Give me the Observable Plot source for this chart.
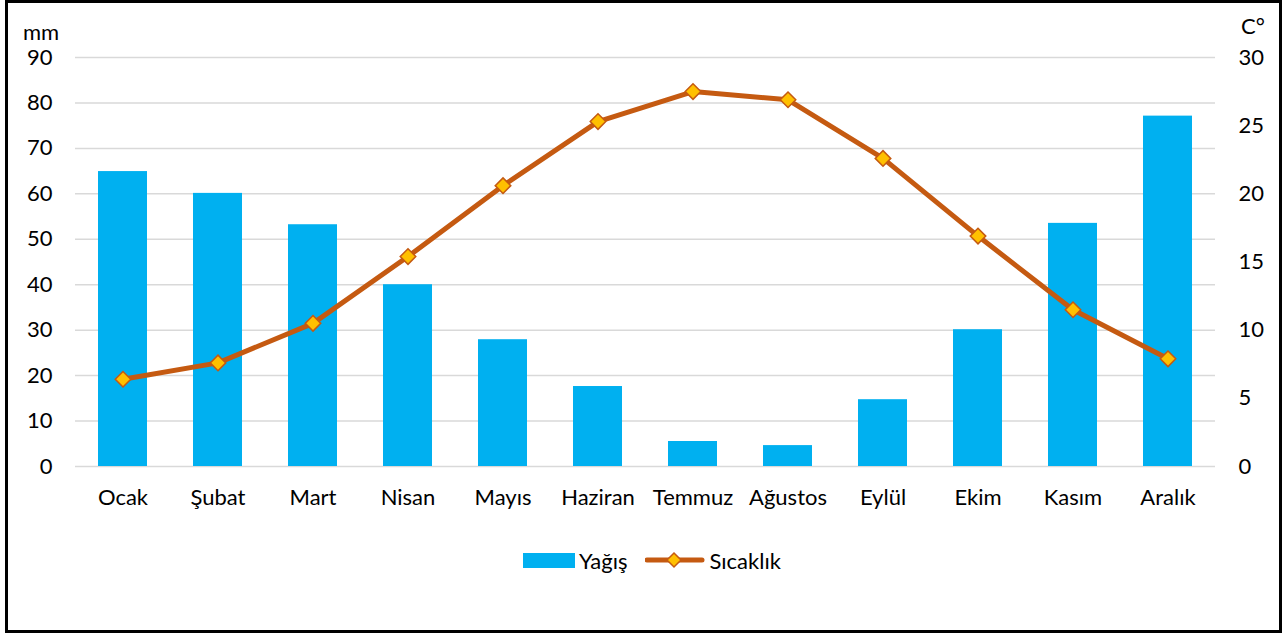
<!DOCTYPE html>
<html><head><meta charset="utf-8">
<script src="https://cdn.jsdelivr.net/npm/d3@7"></script>
<script src="https://cdn.jsdelivr.net/npm/@observablehq/plot@0.6"></script>
<style>
body{margin:0;background:#fff;font-family:Lato,"Open Sans",sans-serif;color:#000;}
#frame{position:absolute;left:5px;top:0;width:1277px;height:633px;box-sizing:border-box;border:3px solid #000;}
#chart{position:absolute;left:0;top:0;}
.unit{position:absolute;font-size:22px;line-height:22px;}
#legend{position:absolute;left:523px;top:548px;height:24px;display:flex;align-items:center;font-size:22px;}
#legend .sw{display:inline-block;width:52px;height:15px;background:#00B0F0;margin-right:4px;}
</style></head><body>
<div id="frame"></div>
<div id="chart"></div>
<div class="unit" id="uL" style="left:23px;top:21px;"></div>
<div class="unit" id="uR" style="left:1241px;top:15px;"></div>
<div id="legend"></div>
<script>
const months = ["Ocak","Şubat","Mart","Nisan","Mayıs","Haziran","Temmuz","Ağustos","Eylül","Ekim","Kasım","Aralık"];
const rain = [64.9, 60.1, 53.2, 40.0, 27.9, 17.6, 5.5, 4.6, 14.7, 30.1, 53.5, 77.1];
const temp = [6.4, 7.6, 10.5, 15.4, 20.6, 25.3, 27.5, 26.9, 22.6, 16.9, 11.5, 7.9];
const leftTicks = [0,10,20,30,40,50,60,70,80,90];
const rightTicks = [0,5,10,15,20,25,30];
const leftUnit = "mm";
const rightUnit = "C°";
const seriesNames = ["Yağış","Sıcaklık"];

const colors = {bar:"#00B0F0", line:"#C55A11", marker:"#FFC000", grid:"#D9D9D9"};
const k = 90/30;
const data = months.map((m,i)=>({month:m, rain:rain[i], temp:temp[i]}));

const plot = Plot.plot({
  width:1283, height:520,
  marginLeft:75, marginRight:68, marginTop:57, marginBottom:54,
  style:{fontFamily:"Lato, 'Open Sans', sans-serif", fontSize:"22px", color:"#000", background:"transparent", overflow:"visible"},
  x:{domain:months, paddingInner:0.48, paddingOuter:0.24, label:null},
  y:{domain:[0,90], label:null},
  marks:[
    Plot.gridY(leftTicks,{stroke:colors.grid, strokeOpacity:1, strokeWidth:1.5}),
    Plot.barY(data,{x:"month", y:"rain", fill:colors.bar}),
    Plot.lineY(data,{x:"month", y:d=>d.temp*k, stroke:colors.line, strokeWidth:5}),
    Plot.dot(data,{x:"month", y:d=>d.temp*k, symbol:"diamond2", r:7, fill:colors.marker, stroke:colors.line, strokeWidth:1.5}),
    Plot.axisY(leftTicks,{anchor:"left", tickSize:0, tickPadding:23, label:null}),
    Plot.axisY(rightTicks.map(t=>t*k),{anchor:"right", tickSize:0, tickPadding:23, tickFormat:d=>Math.round(d/k), label:null}),
    Plot.axisX({anchor:"bottom", tickSize:0, tickPadding:23, label:null})
  ]
});
document.getElementById("chart").appendChild(plot);
document.getElementById("uL").textContent = leftUnit;
document.getElementById("uR").textContent = rightUnit;

const lg = document.getElementById("legend");
lg.innerHTML = `<span class="sw"></span><span>${seriesNames[0]}</span>
<svg width="60" height="20" style="margin-left:18px;margin-right:4px"><line x1="2" y1="10" x2="57" y2="10" stroke="${colors.line}" stroke-width="5" stroke-linecap="round"/><path d="M29,3 L36,10 L29,17 L22,10 Z" fill="${colors.marker}" stroke="${colors.line}" stroke-width="1.5"/></svg><span>${seriesNames[1]}</span>`;
</script>
</body></html>
